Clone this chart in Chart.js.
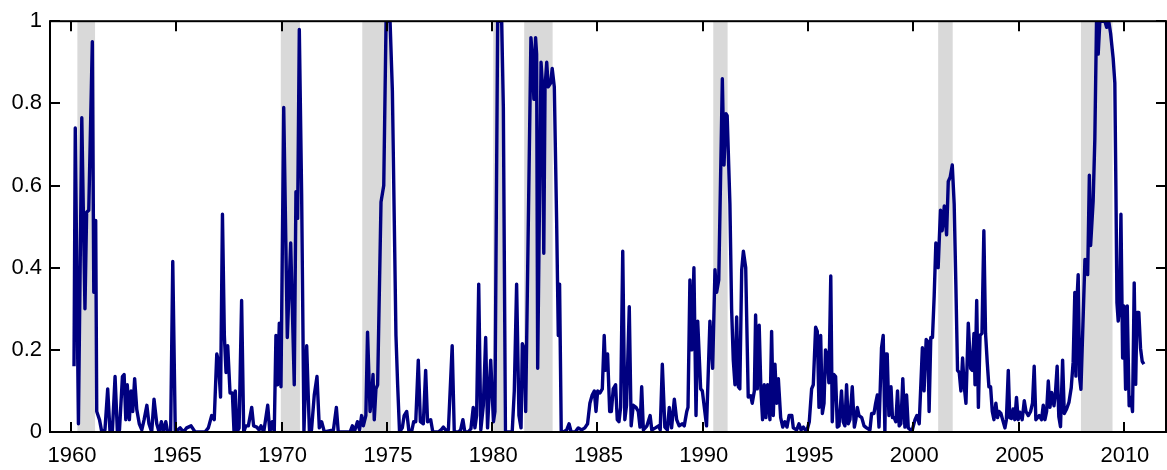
<!DOCTYPE html>
<html>
<head>
<meta charset="utf-8">
<script src="https://cdn.jsdelivr.net/npm/chart.js@4.4.1/dist/chart.umd.min.js"></script>
<style>
  html, body { margin: 0; padding: 0; background: #fff; }
  canvas { display: block; }
</style>
</head>
<body>
<canvas id="chart" width="1167" height="470"></canvas>
<script>
// vertices of the series (decimal year / probability)
const dates = [
  1960.14,1960.2,1960.35,1960.51,1960.66,1960.74,1960.84,1961.01,1961.08,1961.17,
  1961.22,1961.35,1961.46,1961.61,1961.74,1961.85,1961.96,1962.09,1962.2,1962.3,
  1962.44,1962.52,1962.6,1962.67,1962.77,1962.85,1962.93,1963.02,1963.12,1963.24,
  1963.36,1963.47,1963.6,1963.7,1963.83,1963.94,1964.07,1964.18,1964.29,1964.38,
  1964.5,1964.59,1964.73,1964.83,1964.95,
  1965.18,1965.34,1965.49,1965.7,1965.89,1966.36,1966.52,1966.68,1966.8,1966.92,
  1966.99,1967.1,1967.19,1967.28,1967.36,1967.44,1967.55,1967.66,1967.74,1967.8,
  1967.88,1967.98,1968.1,1968.2,1968.3,1968.42,1968.58,1968.67,1968.82,1968.93,
  1969.02,1969.15,1969.34,1969.44,1969.56,1969.65,1969.73,1969.81,1969.89,1969.97,
  1970.1,1970.27,1970.43,1970.6,1970.68,1970.76,1970.84,1970.95,1971.06,1971.19,
  1971.32,1971.42,1971.55,1971.68,1971.79,1971.9,1972.03,1972.46,1972.6,1972.69,
  1973.25,1973.36,1973.45,1973.6,1973.7,1973.8,1973.88,1974.0,1974.08,1974.2,
  1974.28,1974.34,1974.4,1974.48,1974.56,1974.72,1974.85,1974.96,1975.15,
  1975.26,1975.35,1975.43,1975.51,1975.6,1975.73,1975.82,1975.94,1976.05,1976.17,
  1976.27,1976.37,1976.49,1976.59,1976.73,1976.84,1976.93,1977.08,1977.18,1977.44,
  1977.57,1977.68,1977.79,1977.92,1978.1,1978.2,1978.39,1978.5,1978.61,1978.7,
  1978.86,1978.99,1979.1,1979.18,1979.26,1979.36,1979.46,1979.58,1979.69,1979.78,
  1979.93,1980.06,1980.13,1980.26,1980.45,1980.53,1980.63,1980.95,1981.05,1981.16,
  1981.27,1981.37,1981.43,1981.51,1981.59,1981.84,1981.9,1981.98,1982.06,1982.11,
  1982.16,1982.32,1982.39,1982.45,1982.51,1982.59,1982.66,1982.78,1982.85,1982.95,
  1983.06,1983.14,1983.2,1983.28,1983.38,1983.54,1983.65,1983.75,1983.94,1984.09,
  1984.25,1984.4,1984.53,1984.64,1984.75,1984.85,1984.93,1985.01,1985.12,1985.23,
  1985.32,1985.38,1985.48,1985.58,1985.66,1985.75,1985.86,1985.94,1986.02,1986.1,
  1986.2,1986.3,1986.38,1986.51,1986.6,1986.7,1986.83,1986.94,1987.02,1987.1,
  1987.18,1987.35,1987.5,1987.58,1987.75,1987.9,1987.98,1988.08,1988.2,1988.32,
  1988.41,1988.52,1988.65,1988.76,1988.88,1989.02,1989.12,1989.24,1989.3,1989.39,
  1989.48,1989.58,1989.68,1989.76,1989.9,1989.98,1990.18,1990.34,1990.47,1990.58,
  1990.66,1990.76,1990.93,1991.01,1991.1,1991.16,1991.29,1991.37,1991.45,1991.53,
  1991.61,1991.69,1991.76,1991.85,1991.93,1992.04,1992.16,1992.28,1992.35,1992.45,
  1992.51,1992.59,1992.68,1992.76,1992.84,1992.92,1993.0,1993.08,1993.19,1993.27,
  1993.35,1993.43,1993.51,1993.59,1993.7,1993.8,1993.9,1994.0,1994.1,1994.23,
  1994.3,1994.46,1994.57,1994.67,1994.78,1994.93,1995.06,1995.17,1995.25,1995.36,
  1995.44,1995.52,1995.6,1995.68,1995.76,1995.83,1995.91,1995.99,1996.08,1996.15,
  1996.23,1996.31,1996.39,1996.47,1996.59,1996.67,1996.75,1996.83,1996.91,1996.99,
  1997.1,1997.2,1997.27,1997.34,1997.42,1997.55,1997.66,1997.78,1997.94,1998.02,
  1998.13,1998.21,1998.29,1998.37,1998.49,1998.57,1998.65,1998.7,1998.76,1998.84,
  1998.94,1999.01,1999.09,1999.17,1999.25,1999.33,1999.41,1999.5,1999.6,1999.68,
  1999.76,1999.87,1999.95,2000.08,2000.17,2000.28,2000.43,2000.51,2000.61,2000.69,
  2000.75,2000.83,2000.91,2000.99,2001.07,2001.18,2001.29,2001.37,2001.47,2001.58,
  2001.66,2001.75,2001.85,2001.94,2002.02,2002.1,2002.18,2002.26,2002.34,2002.42,
  2002.5,2002.61,2002.72,2002.8,2002.88,2002.93,2003.01,2003.09,2003.17,2003.26,
  2003.35,2003.43,2003.51,2003.59,2003.67,2003.75,2003.83,2003.92,2004.0,2004.07,
  2004.16,2004.24,2004.35,2004.42,2004.51,2004.58,2004.66,2004.74,2004.82,2004.9,
  2004.98,2005.06,2005.17,2005.27,2005.35,2005.46,2005.57,2005.66,2005.74,2005.82,
  2005.9,2005.98,2006.09,2006.17,2006.25,2006.33,2006.41,2006.49,2006.57,2006.68,
  2006.75,2006.83,2006.91,2006.99,2007.09,2007.17,2007.28,2007.39,2007.5,2007.59,
  2007.67,2007.72,2007.78,2007.83,2007.9,2007.96,2008.15,2008.22,2008.28,2008.36,
  2008.42,2008.54,2008.62,2008.7,2008.78,2008.86,2009.1,2009.18,2009.28,2009.37,
  2009.49,2009.57,2009.62,2009.67,2009.73,2009.79,2009.86,2009.94,2010.0,2010.08,
  2010.16,2010.25,2010.33,2010.41,2010.49,2010.56,2010.62,2010.71,2010.79,2010.87,
  2010.95
];
const probs = [
  0.16,0.74,0.02,0.765,0.30,0.535,0.54,0.95,0.34,0.515,
  0.05,0.03,0.0,0.005,0.105,0.0,0.0,0.135,0.0,0.005,
  0.135,0.14,0.03,0.115,0.03,0.10,0.05,0.13,0.055,0.02,
  0.005,0.03,0.065,0.02,0.0,0.08,0.02,0.0,0.025,0.0,
  0.025,0.0,0.0,0.415,0.0,
  0.01,0,0.01,0.015,0,0,0.01,0.04,0.03,0.19,
  0.175,0.085,0.53,0.235,0.145,0.21,0.095,0.095,0,0.1,
  0,0.01,0.32,0,0.015,0.015,0.06,0.015,0.012,0.005,
  0.015,0,0.065,0,0.025,0,0.235,0.115,0.265,0.11,
  0.79,0.23,0.46,0.115,0.585,0.52,0.98,0.58,0,0.21,
  0,0.005,0.09,0.135,0.01,0.025,0,0.005,0.06,0,
  0,0.015,0,0.025,0.005,0.04,0.015,0.04,0.243,0.05,
  0.09,0.14,0.03,0.105,0.115,0.56,0.6,1,1,
  0.83,0.515,0.235,0.115,0,0.01,0.04,0.05,0,0,
  0.025,0.025,0.175,0.025,0.02,0.15,0.025,0.03,0,0,
  0.005,0.012,0.005,0.005,0.21,0,0,0.005,0.03,0,
  0,0.008,0.06,0.01,0.04,0.36,0.005,0.065,0.23,0.01,
  0.175,0.025,0.05,1,1,0.79,0,0,0.1,0.36,
  0.04,0.01,0.215,0.205,0.05,0.96,0.92,0.81,0.96,0.92,
  0.155,0.9,0.84,0.435,0.84,0.9,0.84,0.85,0.885,0.84,
  0.515,0.235,0.36,0,0,0.005,0.02,0,0,0.01,
  0.005,0.01,0.02,0.07,0.09,0.1,0.05,0.1,0.095,0.105,
  0.235,0.15,0.19,0.05,0.05,0.105,0.115,0.03,0.025,0.06,
  0.44,0.03,0.065,0.305,0.015,0.065,0.06,0.05,0.012,0.11,
  0.005,0.015,0.04,0.005,0.01,0.015,0.005,0.165,0.012,0.005,
  0.06,0.01,0.08,0.03,0.015,0.02,0.015,0.05,0.06,0.37,
  0.2,0.4,0.04,0.27,0.105,0.1,0.015,0.27,0.155,0.395,
  0.34,0.37,0.86,0.65,0.775,0.77,0.555,0.3,0.175,0.115,
  0.28,0.11,0.105,0.395,0.44,0.4,0.085,0.088,0.07,0.1,
  0.285,0.105,0.26,0.105,0.03,0.115,0.035,0.115,0.03,0.245,
  0.04,0.165,0.07,0.13,0.035,0.012,0.025,0.012,0.04,0.04,
  0.01,0.005,0.02,0.005,0.012,0,0.025,0.105,0.115,0.255,
  0.245,0.06,0.235,0.045,0.07,0.2,0.185,0.12,0.38,0.025,
  0.14,0.135,0.012,0.015,0.1,0.025,0.015,0.115,0.02,0.03,
  0.11,0.012,0.03,0.06,0.04,0.035,0.015,0.01,0.005,0.045,
  0.045,0.07,0.09,0.012,0.205,0.235,0,0.19,0.19,0.04,
  0.11,0.035,0.035,0.025,0.1,0.015,0.02,0.13,0.012,0.09,
  0.01,0.005,0.005,0.03,0.04,0.02,0.205,0.1,0.225,0.22,
  0.05,0.23,0.23,0.33,0.46,0.4,0.54,0.49,0.55,0.48,
  0.61,0.62,0.65,0.555,0.36,0.15,0.145,0.1,0.18,0.11,
  0.07,0.265,0.155,0.15,0.24,0.115,0.32,0.06,0.235,0.24,
  0.49,0.24,0.17,0.11,0.11,0.05,0.03,0.07,0.035,0.05,
  0.045,0.03,0.01,0.03,0.15,0.035,0.033,0.056,0.03,0.084,
  0.03,0.048,0.03,0.076,0.05,0.04,0.05,0.07,0.16,0.03,
  0.035,0.04,0.03,0.065,0.03,0.05,0.124,0.06,0.096,0.064,
  0.096,0.16,0.037,0.013,0.175,0.045,0.056,0.072,0.108,0.17,
  0.34,0.136,0.33,0.383,0.13,0.104,0.42,0.41,0.383,0.625,
  0.454,0.562,0.713,1,0.92,1,1,0.985,1,0.97,
  0.91,0.85,0.6,0.315,0.27,0.3,0.53,0.18,0.307,0.104,
  0.307,0.064,0.084,0.05,0.363,0.116,0.291,0.291,0.204,0.172,
  0.165
];

// shaded recession periods
const recStart = [1960.30, 1969.96, 1973.83, 1980.05, 1981.52, 1990.50, 2001.18, 2007.96];
const recEnd   = [1961.14, 1970.87, 1975.19, 1980.53, 1982.87, 1991.18, 2001.87, 2009.46];

const xTicks = [1960, 1965, 1970, 1975, 1980, 1985, 1990, 1995, 2000, 2005, 2010];
const xTickLabels = ['1960', '1965', '1970', '1975', '1980', '1985', '1990', '1995', '2000', '2005', '2010'];
const yTicks = [0, 0.2, 0.4, 0.6, 0.8, 1];
const yTickLabels = ['0', '0.2', '0.4', '0.6', '0.8', '1'];

if (dates.length !== probs.length) console.warn('length mismatch', dates.length, probs.length);

const points = dates.map((d, i) => ({ x: d, y: probs[i] }));
const fontFamily = "'Liberation Sans', Arial, Helvetica, sans-serif";

// grey bands behind the line
const bandsPlugin = {
  id: 'bands',
  beforeDatasetsDraw(chart) {
    const { ctx, chartArea: a, scales: { x } } = chart;
    ctx.save();
    ctx.fillStyle = '#d9d9d9';
    for (let i = 0; i < recStart.length; i++) {
      const x0 = x.getPixelForValue(recStart[i]);
      const x1 = x.getPixelForValue(recEnd[i]);
      ctx.fillRect(x0, a.top, x1 - x0, a.bottom - a.top);
    }
    ctx.restore();
  }
};

// box round the plot, inward ticks on all four sides, year labels below
const framePlugin = {
  id: 'frame',
  afterDraw(chart) {
    const { ctx, chartArea: a, scales: { x, y } } = chart;
    const len = 10;
    ctx.save();
    ctx.strokeStyle = '#000';
    ctx.lineWidth = 2;
    ctx.beginPath();
    for (const v of xTicks) {
      const px = Math.round(x.getPixelForValue(v));
      ctx.moveTo(px, a.bottom); ctx.lineTo(px, a.bottom - len);
      ctx.moveTo(px, a.top); ctx.lineTo(px, a.top + len);
    }
    for (const v of yTicks) {
      const py = Math.round(y.getPixelForValue(v));
      ctx.moveTo(a.left, py); ctx.lineTo(a.left + len, py);
      ctx.moveTo(a.right, py); ctx.lineTo(a.right - len, py);
    }
    ctx.stroke();
    ctx.strokeRect(a.left, a.top, a.right - a.left, a.bottom - a.top);

    ctx.fillStyle = '#000';
    ctx.font = '22px ' + fontFamily;
    ctx.textAlign = 'center';
    ctx.textBaseline = 'alphabetic';
    xTicks.forEach((v, i) => {
      ctx.fillText(xTickLabels[i], x.getPixelForValue(v) + 1, a.bottom + 30);
    });
    ctx.restore();
  }
};

new Chart(document.getElementById('chart'), {
  type: 'line',
  data: {
    datasets: [{
      data: points,
      borderColor: '#000080',
      borderWidth: 3.4,
      borderJoinStyle: 'round',
      pointRadius: 0,
      tension: 0,
      fill: false,
      clip: 0
    }]
  },
  options: {
    responsive: false,
    devicePixelRatio: 1,
    animation: false,
    layout: { padding: { top: 13, right: 1, left: 0, bottom: 0 } },
    plugins: { legend: { display: false }, tooltip: { enabled: false } },
    scales: {
      x: {
        type: 'linear',
        min: 1959,
        max: 2012,
        grid: { display: false, drawTicks: false },
        border: { display: false },
        afterBuildTicks: (scale) => { scale.ticks = xTicks.map(v => ({ value: v })); },
        afterFit: (scale) => { scale.height = 38; },
        ticks: { display: false }
      },
      y: {
        min: 0,
        max: 1,
        grid: { display: false, drawTicks: false },
        border: { display: false },
        afterBuildTicks: (scale) => { scale.ticks = yTicks.map(v => ({ value: v })); },
        afterFit: (scale) => { scale.width = 50; },
        ticks: {
          font: { family: fontFamily, size: 22 },
          color: '#000',
          padding: 8,
          autoSkip: false,
          callback: (v, i) => yTickLabels[i]
        }
      }
    }
  },
  plugins: [bandsPlugin, framePlugin]
});
</script>
</body>
</html>
